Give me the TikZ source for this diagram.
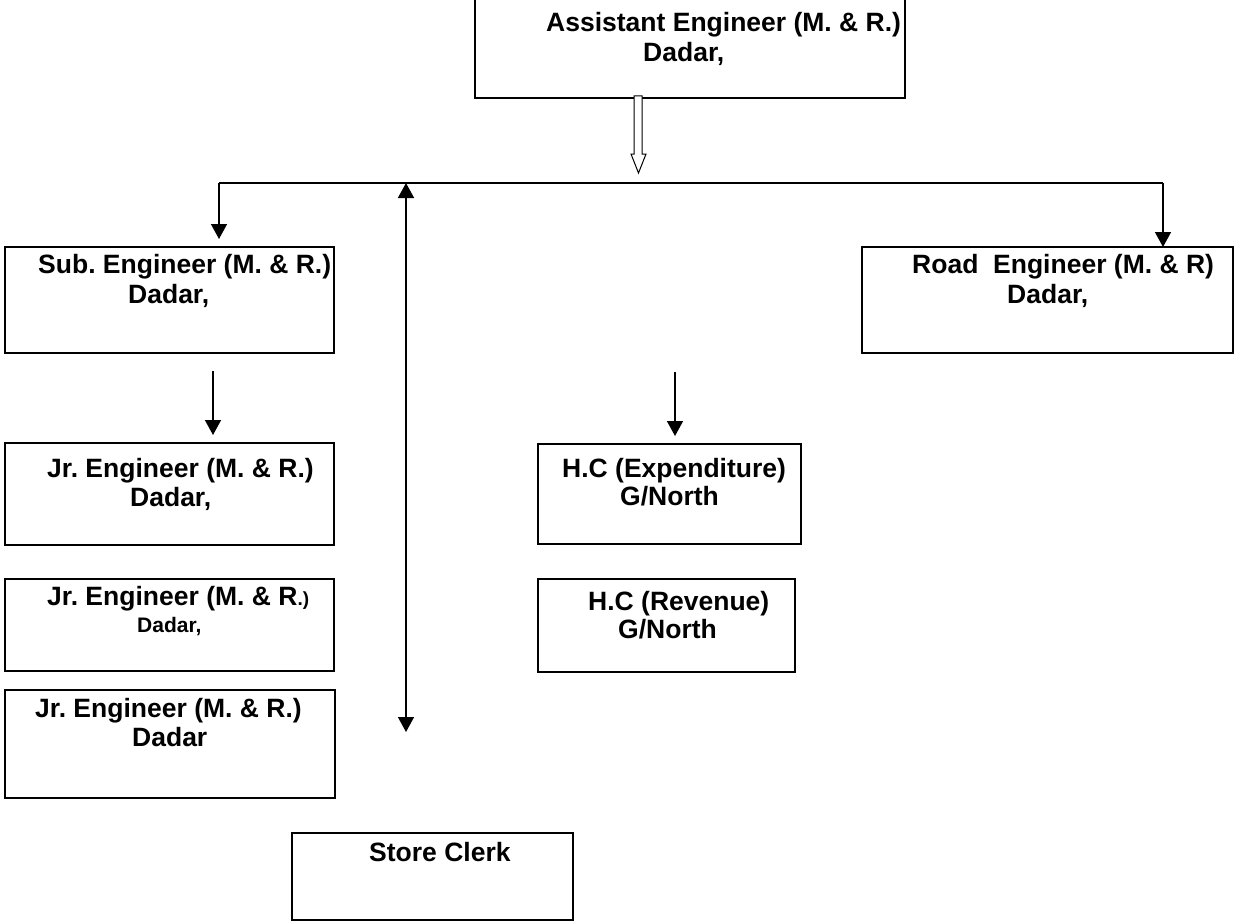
\documentclass[tikz,border=0pt]{standalone}
\usepackage{fontspec}
\setmainfont{Liberation Sans}
\usetikzlibrary{arrows.meta}
\frenchspacing
\begin{document}
\begin{tikzpicture}[x=1pt,y=-1pt,
  box/.style={draw, line width=1.2pt, rectangle, inner sep=0pt, outer sep=0pt},
  txt/.style={anchor=base west, inner sep=0pt, font=\fontsize{26.5}{30}\selectfont\bfseries},
  stxt/.style={anchor=base west, inner sep=0pt, font=\fontsize{21}{24}\selectfont\bfseries},
  conn/.style={line width=1.5pt},
  arr/.style={conn, -{Triangle[length=15pt,width=16pt]}},
  darr/.style={conn, {Triangle[length=15pt,width=16pt]}-{Triangle[length=15pt,width=16pt]}}]
\useasboundingbox (0,0) rectangle (1238,923);
% boxes
\node[box, minimum width=430pt, minimum height=100pt] (ae) at (690,48) {};
\node[box, minimum width=329pt, minimum height=106pt] (sub) at (169.5,300) {};
\node[box, minimum width=371pt, minimum height=106pt] (road) at (1047.5,300) {};
\node[box, minimum width=329pt, minimum height=102pt] (jr1) at (169.5,494) {};
\node[box, minimum width=329pt, minimum height=92pt] (jr2) at (169.5,625) {};
\node[box, minimum width=330pt, minimum height=108pt] (jr3) at (170,744) {};
\node[box, minimum width=263pt, minimum height=100pt] (hce) at (669.5,494) {};
\node[box, minimum width=257pt, minimum height=93pt] (hcr) at (666.5,625.5) {};
\node[box, minimum width=281pt, minimum height=87pt] (sc) at (432.5,876.5) {};
% texts
\node[txt] (t1a) at (546,32) {Assistant Engineer (M. \& R.)};
\node[txt] (t1b) at (643,62) {Dadar,};
\node[txt] (t2a) at (38,273) {Sub. Engineer (M. \& R.)};
\node[txt] (t2b) at (128,303) {Dadar,};
\node[txt] (t3a) at (912,273) {Road\ \ Engineer (M. \& R)};
\node[txt] (t3b) at (1007,303) {Dadar,};
\node[txt] (t4a) at (47,477) {Jr. Engineer (M. \& R.)};
\node[txt] (t4b) at (130,506) {Dadar,};
\node[txt] (t5a) at (47,605) {Jr. Engineer (M. \& R{\fontsize{19}{22}\selectfont.)}};
\node[stxt] (t5b) at (137,632) {Dadar,};
\node[txt] (t6a) at (35,717) {Jr. Engineer (M. \& R.)};
\node[txt] (t6b) at (132,746) {Dadar};
\node[txt] (t7a) at (562,477) {H.C (Expenditure)};
\node[txt] (t7b) at (620,505) {G/North};
\node[txt] (t8a) at (588,610) {H.C (Revenue)};
\node[txt] (t8b) at (618,638) {G/North};
\node[txt] (t9a) at (369,861) {Store Clerk};
% connector coordinates
\coordinate (bl) at (219,183);
\coordinate (br) at (1163,183);
\coordinate (bm) at (406,183);
\coordinate (bb) at (406,732);
\coordinate (subtip) at (219,239);
\coordinate (a1) at (213,371);
\coordinate (a1e) at (213,435);
\coordinate (a2) at (675,372);
\coordinate (a2e) at (675,436);
% hollow block arrow
\draw[line width=1pt, fill=white] (634,96) -- (634,154) -- (631,154) -- (638.5,173) -- (646,154) -- (642,154) -- (642,96) -- cycle;
% bus
\draw[conn] (bl) -- (br);
\draw[arr] (bl) -- (subtip);
\draw[arr] (br) -- (road.north -| br);
\draw[darr] (bm) -- (bb);
\draw[arr] (a1) -- (a1e);
\draw[arr] (a2) -- (a2e);
\end{tikzpicture}
\end{document}
